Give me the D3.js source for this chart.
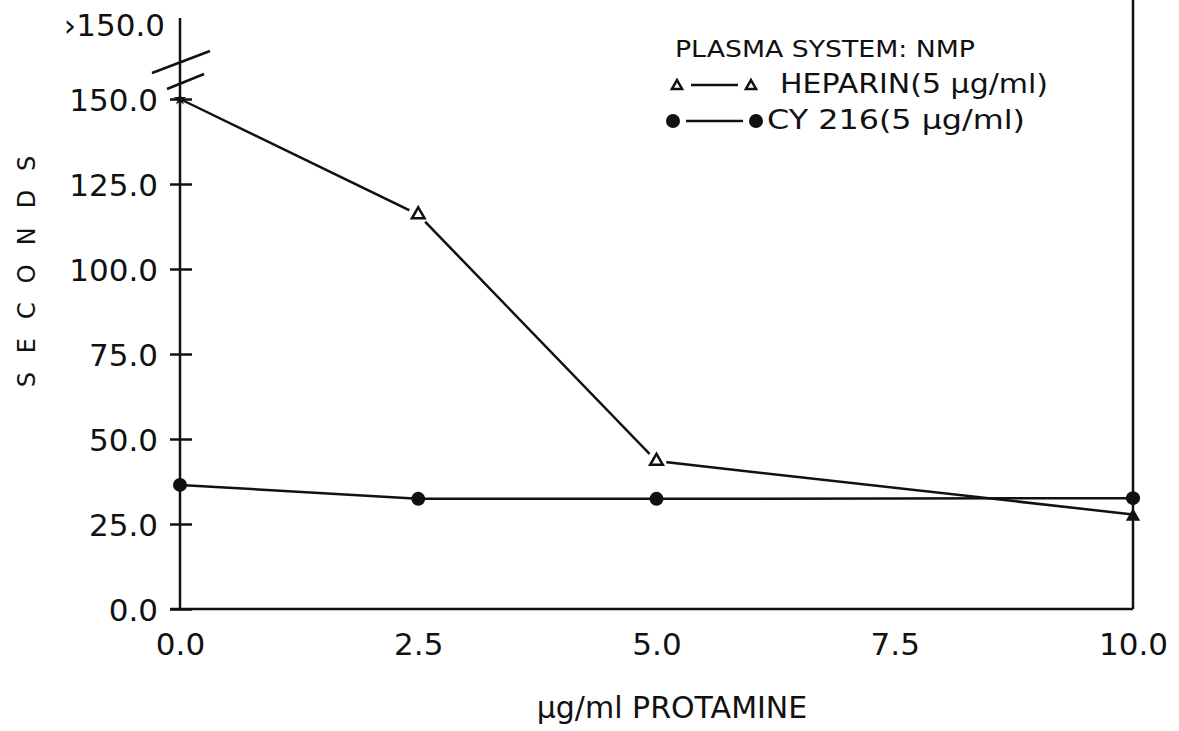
<!DOCTYPE html>
<html>
<head>
<meta charset="utf-8">
<script src="https://cdn.jsdelivr.net/npm/d3@7"></script>
<style>
  body { margin: 0; background: #fff; }
  text { font-family: "DejaVu Sans", sans-serif; fill: #111; }
</style>
</head>
<body>
<div id="chart"></div>
<script>
// data
let protamine = [0, 2.5, 5.0, 10.0];
let heparin = [150, 116, 43.5, 27.8];
let cy216 = [36.5, 32.4, 32.4, 32.6];
let xTicks = [0, 2.5, 5.0, 7.5, 10.0];
let yTicks = [0, 25, 50, 75, 100, 125, 150];

let w = 1179;
let h = 731;

let svg = d3.select("#chart")
  .append("svg")
  .attr("width", w)
  .attr("height", h);

let x = d3.scaleLinear().domain([0, 10]).range([180, 1133]);
let y = d3.scaleLinear().domain([0, 150]).range([609, 99]);

// y axis
let yAxis = svg.append("g")
  .attr("transform", "translate(" + x(0) + ",0)")
  .call(d3.axisLeft(y).tickValues(yTicks).tickSize(-12).tickPadding(22)
    .tickFormat(d3.format(".1f")));
yAxis.select(".domain").remove();
yAxis.selectAll(".tick line").attr("x1", -10).attr("stroke", "#111").attr("stroke-width", 2.5);
yAxis.selectAll(".tick text").style("font-size", "31px").attr("dy", "0.36em");

// vertical axis line up to the break label
svg.append("line")
  .attr("x1", x(0)).attr("x2", x(0))
  .attr("y1", 18).attr("y2", y(0))
  .attr("stroke", "#111").attr("stroke-width", 2.5);

// >150 label
svg.append("text")
  .attr("x", x(0) - 15).attr("y", 25)
  .attr("dy", "0.36em")
  .attr("text-anchor", "end")
  .style("font-size", "31px")
  .text("\u203A150.0");

// axis break marks
svg.append("line").attr("x1", 152).attr("y1", 73).attr("x2", 210).attr("y2", 51)
  .attr("stroke", "#111").attr("stroke-width", 2.5);
svg.append("line").attr("x1", 167).attr("y1", 89).attr("x2", 204).attr("y2", 74)
  .attr("stroke", "#111").attr("stroke-width", 2.5);

// x axis
let xAxis = svg.append("g")
  .attr("transform", "translate(0," + y(0) + ")")
  .call(d3.axisBottom(x).tickValues(xTicks).tickSize(0).tickPadding(24)
    .tickFormat(d3.format(".1f")));
xAxis.select(".domain").attr("stroke", "#111").attr("stroke-width", 2.5)
  .attr("d", "M" + (x(0) - 10) + ",0H" + x(10));
xAxis.selectAll(".tick text").style("font-size", "31px");

// right frame line
svg.append("line")
  .attr("x1", x(10)).attr("x2", x(10))
  .attr("y1", 0).attr("y2", y(0))
  .attr("stroke", "#111").attr("stroke-width", 2.5);

// series lines
let line = d3.line()
  .x((d, i) => x(protamine[i]))
  .y(d => y(d));

svg.append("path").datum(cy216)
  .attr("d", line)
  .attr("fill", "none").attr("stroke", "#111").attr("stroke-width", 2.5);

svg.append("path").datum(heparin)
  .attr("d", line)
  .attr("fill", "none").attr("stroke", "#111").attr("stroke-width", 2.5);

// gaps around the open triangles
let tri = d3.symbol().type(d3.symbolTriangle).size(70);
let openIdx = [1, 2];
svg.selectAll(".gap").data(openIdx).enter().append("circle")
  .attr("cx", i => x(protamine[i]))
  .attr("cy", i => y(heparin[i]))
  .attr("r", 10)
  .attr("fill", "#fff");
svg.selectAll(".otri").data(openIdx).enter().append("path")
  .attr("d", tri)
  .attr("transform", i => "translate(" + x(protamine[i]) + "," + y(heparin[i]) + ")")
  .attr("fill", "#fff").attr("stroke", "#111").attr("stroke-width", 2.5);

// filled markers at the ends of heparin
svg.append("path")
  .attr("d", d3.symbol().type(d3.symbolTriangle).size(90))
  .attr("transform", "translate(" + x(protamine[3]) + "," + (y(heparin[3]) + 2) + ")")
  .attr("fill", "#111");
svg.append("path")
  .attr("d", d3.symbol().type(d3.symbolStar).size(50))
  .attr("transform", "translate(" + x(protamine[0]) + "," + y(heparin[0]) + ")")
  .attr("fill", "#111");

// circles for CY 216
svg.selectAll(".dot").data(cy216).enter().append("circle")
  .attr("cx", (d, i) => x(protamine[i]))
  .attr("cy", d => y(d))
  .attr("r", 7)
  .attr("fill", "#111");

// legend
svg.append("text").attr("x", 675).attr("y", 57)
  .attr("textLength", 300).attr("lengthAdjust", "spacingAndGlyphs")
  .style("font-size", "23px").text("PLASMA SYSTEM: NMP");

svg.append("path").attr("d", d3.symbol().type(d3.symbolTriangle).size(45))
  .attr("transform", "translate(677,86)")
  .attr("fill", "#fff").attr("stroke", "#111").attr("stroke-width", 2.5);
svg.append("line").attr("x1", 691).attr("x2", 738).attr("y1", 85).attr("y2", 85)
  .attr("stroke", "#111").attr("stroke-width", 2.5);
svg.append("path").attr("d", d3.symbol().type(d3.symbolTriangle).size(45))
  .attr("transform", "translate(751,86)")
  .attr("fill", "#fff").attr("stroke", "#111").attr("stroke-width", 2.5);
svg.append("text").attr("x", 780).attr("y", 93)
  .attr("textLength", 268).attr("lengthAdjust", "spacingAndGlyphs")
  .style("font-size", "26px").text("HEPARIN(5 µg/ml)");

svg.append("circle").attr("cx", 673).attr("cy", 121).attr("r", 7).attr("fill", "#111");
svg.append("line").attr("x1", 686).attr("x2", 743).attr("y1", 121).attr("y2", 121)
  .attr("stroke", "#111").attr("stroke-width", 2.5);
svg.append("circle").attr("cx", 756).attr("cy", 121).attr("r", 7).attr("fill", "#111");
svg.append("text").attr("x", 767).attr("y", 129)
  .attr("textLength", 258).attr("lengthAdjust", "spacingAndGlyphs")
  .style("font-size", "26px").text("CY 216(5 µg/ml)");

// axis titles
svg.append("text")
  .attr("transform", "translate(35,262) rotate(-90)")
  .attr("text-anchor", "middle")
  .style("font-size", "24px")
  .style("letter-spacing", "19px")
  .text("SECONDS");

svg.append("text")
  .attr("x", 672).attr("y", 718)
  .attr("text-anchor", "middle")
  .style("font-size", "30px")
  .text("µg/ml PROTAMINE");
</script>
</body>
</html>
